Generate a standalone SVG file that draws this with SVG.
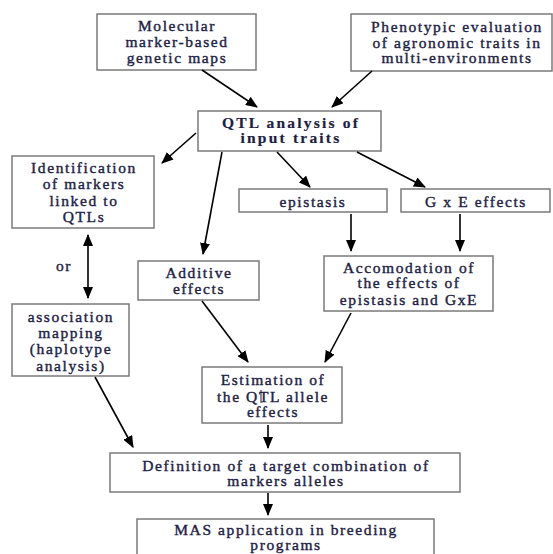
<svg xmlns="http://www.w3.org/2000/svg" width="553" height="554" viewBox="0 0 553 554">
<defs>
<marker id="ah" markerWidth="12" markerHeight="10" refX="11" refY="5" orient="auto" markerUnits="userSpaceOnUse">
<path d="M0,0 L12,5 L0,10 Z" fill="#000"/>
</marker>
<marker id="ahs" markerWidth="12" markerHeight="10" refX="1" refY="5" orient="auto" markerUnits="userSpaceOnUse">
<path d="M12,0 L0,5 L12,10 Z" fill="#000"/>
</marker>
</defs>
<style>
rect{fill:#fff;stroke:#7a7a7a;stroke-width:1.5}
text{font-family:"Liberation Serif","Times New Roman",serif;font-size:15.5px;fill:#1e1e44;stroke:#1e1e44;stroke-width:0.4;text-anchor:middle;letter-spacing:1.6px}
.b{font-weight:bold;letter-spacing:2.2px;stroke-width:0.2}
#connectors line{stroke:#000;stroke-width:1.6;marker-end:url(#ah)}
</style>
<rect x="0" y="0" width="553" height="554" style="fill:#fff;stroke:none"/>
<g id="n1"><rect x="97" y="14" width="159" height="56"/>
<text x="177" y="31">Molecular</text><text x="177" y="47">marker-based</text><text x="177" y="63">genetic maps</text></g>
<g id="n2"><rect x="351" y="14" width="201" height="57"/>
<text x="457" y="32">Phenotypic evaluation</text><text x="457" y="48">of agronomic traits in</text><text x="457" y="63">multi-environments</text></g>
<g id="n3"><rect x="198" y="111" width="183" height="40"/>
<text class="b" x="291" y="128">QTL analysis of</text><text class="b" x="291" y="143">input traits</text></g>
<g id="n4"><rect x="12" y="156" width="142" height="72"/>
<text x="84" y="173">Identification</text><text x="84" y="189">of markers</text><text x="84" y="206">linked to</text><text x="84" y="222">QTLs</text></g>
<g id="n5"><text x="64" y="271">or</text></g>
<g id="n6"><rect x="12" y="304" width="117" height="72"/>
<text x="71" y="322">association</text><text x="71" y="338">mapping</text><text x="71" y="354">(haplotype</text><text x="71" y="371">analysis)</text></g>
<g id="n7"><rect x="138" y="261" width="121" height="39"/>
<text x="199" y="278">Additive</text><text x="199" y="294">effects</text></g>
<g id="n8"><rect x="239" y="189" width="148" height="23"/>
<text x="313" y="207">epistasis</text></g>
<g id="n9"><rect x="401" y="189" width="149" height="23"/>
<text x="476" y="207">G x E effects</text></g>
<g id="n10"><rect x="324" y="256" width="169" height="55"/>
<text x="409" y="273">Accomodation of</text><text x="409" y="288">the effects of</text><text x="409" y="305">epistasis and GxE</text></g>
<g id="n11"><rect x="202" y="367" width="140" height="56"/>
<text x="273" y="385">Estimation of</text><text x="273" y="402">the QTL allele</text><text x="273" y="417">effects</text>
<line x1="261" y1="390" x2="261" y2="403" style="stroke:#1e1e44;stroke-width:1"/></g>
<g id="n12"><rect x="110" y="453" width="350" height="39"/>
<text x="286" y="471">Definition of a target combination of</text><text x="286" y="486">markers alleles</text></g>
<g id="n13"><rect x="137" y="519" width="297" height="45"/>
<text x="286" y="535">MAS application in breeding</text><text x="286" y="550">programs</text></g>
<g id="connectors">
<line x1="202" y1="70" x2="257" y2="107"/>
<line x1="372" y1="71" x2="332" y2="107"/>
<line x1="196" y1="133" x2="162" y2="163"/>
<line x1="88" y1="235" x2="88" y2="298" style="marker-start:url(#ahs)"/>
<line x1="222" y1="152" x2="203" y2="254"/>
<line x1="277" y1="152" x2="310" y2="187"/>
<line x1="357" y1="152" x2="425" y2="187"/>
<line x1="351" y1="214" x2="351" y2="251"/>
<line x1="460" y1="214" x2="460" y2="251"/>
<line x1="351" y1="313" x2="325" y2="362"/>
<line x1="202" y1="301" x2="248" y2="362"/>
<line x1="268" y1="425" x2="268" y2="448"/>
<line x1="95" y1="377" x2="133" y2="447"/>
<line x1="268" y1="493" x2="268" y2="515"/>
</g>
</svg>
